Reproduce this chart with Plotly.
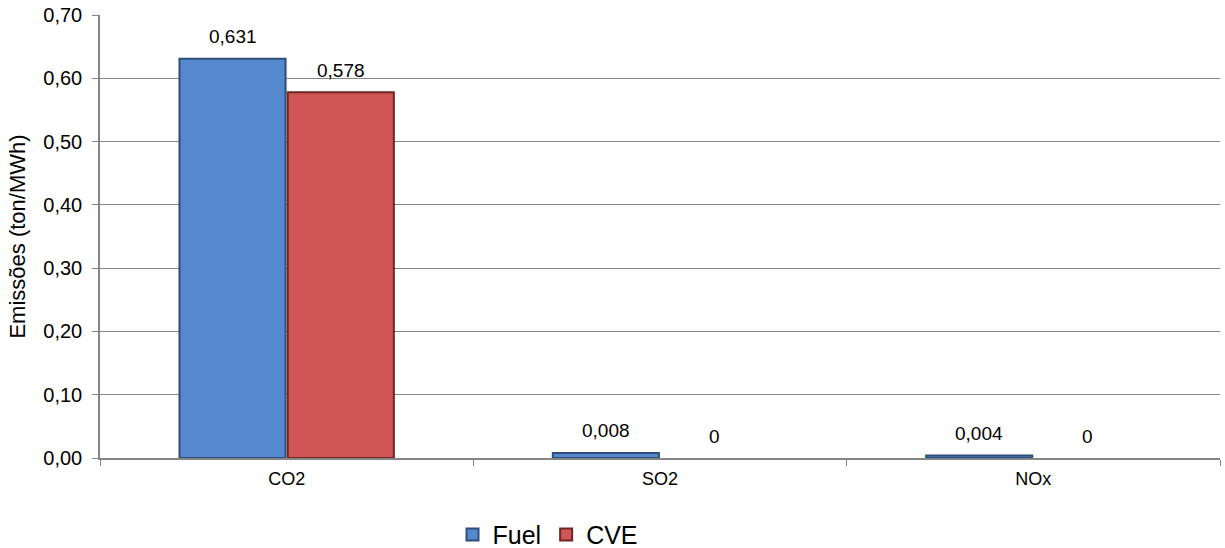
import plotly.graph_objects as go

categories = ["CO2", "SO2", "NOx"]
fuel = [0.631, 0.008, 0.004]
cve = [0.578, 0, 0]
fuel_labels = ["0,631", "0,008", "0,004"]
cve_labels = ["0,578", "0", "0"]
y_ticks = [0.0, 0.1, 0.2, 0.3, 0.4, 0.5, 0.6, 0.7]

font = "Liberation Sans, Arial, sans-serif"
GRAY = "#868686"

fig = go.Figure()
fig.add_trace(go.Bar(
    name="Fuel", x=categories, y=fuel,
    marker=dict(color="#5588CC",
                line=dict(color="#2E4F7A", width=[2 if v > 0 else 0 for v in fuel])),
))
fig.add_trace(go.Bar(
    name="CVE", x=categories, y=cve,
    marker=dict(color="#CF5654",
                line=dict(color="#6E2626", width=[2 if v > 0 else 0 for v in cve])),
))

# data labels placed above each bar (group offset of half a bar width)
for vals, labs, shift in ((fuel, fuel_labels, -54), (cve, cve_labels, 54)):
    for c, v, t in zip(categories, vals, labs):
        fig.add_annotation(x=c, y=v, text=t, showarrow=False, xshift=shift, yshift=22,
                           xanchor="center", yanchor="middle",
                           font=dict(size=19, color="#000000"))

fig.update_layout(
    width=1225, height=548,
    margin=dict(l=100, r=5, t=15, b=90),
    paper_bgcolor="white", plot_bgcolor="white",
    separators=",.",
    barmode="group", bargap=0.42, bargroupgap=0.02,
    font=dict(family=font, size=18, color="#000000"),
    showlegend=True,
    legend=dict(orientation="h", x=0.4, xanchor="center",
                yref="container", y=0.024, yanchor="middle",
                font=dict(size=25), itemwidth=30, traceorder="normal"),
    xaxis=dict(
        automargin=False,
        showline=True, linecolor=GRAY, linewidth=1.5,
        ticks="outside", tickson="boundaries", ticklen=6, tickcolor=GRAY,
        showgrid=False, ticklabelstandoff=4,
        tickfont=dict(size=18),
    ),
    yaxis=dict(
        automargin=False,
        range=[0, 0.7], tickvals=y_ticks, tickformat=".2f",
        showline=True, linecolor=GRAY, linewidth=1.5,
        ticks="outside", ticklen=6, tickcolor=GRAY,
        showgrid=True, gridcolor=GRAY, gridwidth=1,
        ticklabelstandoff=6,
        tickfont=dict(size=20),
        title=dict(text="Emissões (ton/MWh)", font=dict(size=22), standoff=12),
    ),
)

fig.write_html("out.html", config={"displayModeBar": False},
               post_script="document.body.style.margin='0';document.body.style.overflow='hidden';")
